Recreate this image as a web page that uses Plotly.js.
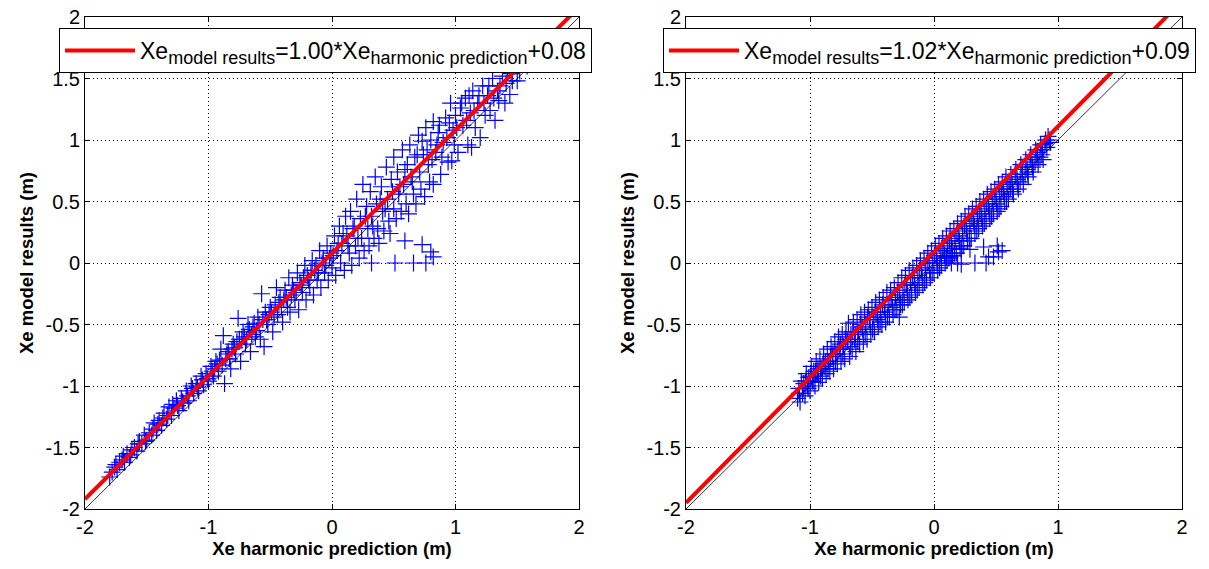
<!DOCTYPE html>
<html>
<head>
<meta charset="utf-8">
<script src="https://cdn.plot.ly/plotly-3.0.1.min.js"></script>
<style>html,body{margin:0;padding:0;background:#fff;}#chart{width:1209px;height:569px;}</style>
</head>
<body>
<div id="chart"></div>
<script>
// ---- Left panel: harmonic prediction vs model results (set 1) ----
const leftX = [
-1.80,-1.78,-1.76,-1.74,-1.72,-1.70,-1.68,-1.66,-1.64,-1.62,-1.60,-1.58,-1.56,-1.54,-1.52,-1.50,
-1.48,-1.46,-1.44,-1.42,-1.40,-1.38,-1.36,-1.34,-1.32,-1.30,-1.28,-1.26,-1.24,-1.22,-1.20,-1.18,-1.16,-1.14,-1.12,-1.10,-1.08,-1.06,-1.04,-1.02,-1.00,
-0.98,-0.96,-0.94,-0.92,-0.90,-0.88,-0.87,-0.86,-0.84,-0.82,-0.80,-0.78,-0.76,-0.75,-0.74,-0.72,-0.70,-0.68,-0.66,-0.64,-0.62,-0.60,-0.58,-0.57,-0.56,-0.55,-0.54,-0.52,-0.50,
-0.48,-0.46,-0.45,-0.44,-0.42,-0.40,-0.38,-0.36,-0.35,-0.34,-0.32,-0.30,-0.28,-0.27,-0.26,-0.24,-0.22,-0.21,-0.20,-0.18,-0.16,-0.15,-0.14,-0.12,-0.10,-0.09,-0.08,-0.06,-0.04,-0.03,-0.02,0.00,
0.02,0.03,0.04,0.06,0.07,0.08,0.10,0.11,0.12,0.14,0.15,0.16,0.18,0.19,0.20,0.22,0.23,0.24,0.25,0.26,0.28,0.29,0.30,0.31,0.32,0.34,0.35,0.36,0.37,0.38,0.40,0.41,0.42,0.44,0.45,0.46,0.47,0.48,0.50,0.50,
0.52,0.53,0.54,0.56,0.57,0.58,0.60,0.61,0.62,0.63,0.64,0.66,0.67,0.68,0.70,0.71,0.72,0.73,0.74,0.75,0.76,0.78,0.79,0.80,0.82,0.82,0.84,0.86,0.88,0.90,0.92,0.94,0.96,0.97,0.98,
1.00,1.02,1.04,1.06,1.08,1.10,1.12,1.13,1.14,1.16,1.18,1.20,1.22,1.24,1.26,1.28,1.30,1.32,1.34,1.35,1.38,1.40,1.42,1.44,1.46,1.48,1.50,1.52,1.55,1.58,
0.32,0.51,0.59,0.66,0.73,0.76,0.80,0.82,
-1.75,-1.69,-1.63,-1.57,-1.51,-1.45,-1.41,-1.37,-1.33,-1.29,-1.25,-1.21,-1.17,-1.13,-1.09,-1.05,-1.01,
-0.97,-0.95,-0.93,-0.91,-0.89,-0.85,-0.83,-0.81,-0.79,-0.77,-0.73,-0.71,-0.69,-0.67,-0.65,-0.63,-0.61,-0.59,-0.53,-0.51,-0.49,-0.47,-0.43,-0.41,-0.39,-0.37,-0.33,-0.31,-0.29,-0.25,-0.23,-0.19,-0.17,-0.13,-0.11,-0.07,-0.05,-0.01,0.01,
0.05,0.09,0.13,0.17,0.21,0.27,0.33,0.39,0.43,0.49,0.55,0.59,0.65,0.69,0.77,0.81,0.85,0.87,0.89,0.93,0.95,0.99,1.01,1.05,1.09,1.11,1.15,1.19,1.23,1.27,1.31,1.36,1.41,1.45
];
const leftY = [
-1.74,-1.70,-1.66,-1.68,-1.62,-1.60,-1.62,-1.55,-1.58,-1.52,-1.50,-1.53,-1.45,-1.47,-1.40,-1.44,
-1.38,-1.40,-1.30,-1.36,-1.28,-1.32,-1.22,-1.27,-1.17,-1.24,-1.18,-1.12,-1.20,-1.10,-1.14,-1.04,-1.12,-1.00,-1.06,-0.98,-1.04,-0.92,-0.99,-0.90,-0.96,
-0.84,-0.92,-0.80,-0.88,-0.70,-0.59,-0.98,-0.78,-0.72,-0.86,-0.66,-0.74,-0.45,-0.62,-0.80,-0.56,-0.66,-0.50,-0.72,-0.52,-0.60,-0.44,-0.62,-0.25,-0.46,-0.68,-0.40,-0.50,-0.36,
-0.56,-0.34,-0.20,-0.42,-0.28,-0.48,-0.22,-0.36,-0.12,-0.40,-0.18,-0.30,-0.08,-0.38,-0.16,-0.24,-0.02,-0.30,-0.10,-0.20,0.02,-0.26,-0.06,-0.14,0.10,-0.20,0.00,-0.08,0.14,-0.14,0.04,-0.04,
0.22,-0.10,0.10,0.30,0.00,0.16,-0.06,0.38,0.22,0.08,0.42,-0.02,0.30,0.14,0.52,0.04,0.36,0.20,0.64,0.10,0.46,0.28,0.14,0.58,0.38,0.20,0.70,0.48,0.28,0.16,0.62,0.42,0.26,0.78,0.52,0.34,0.24,0.68,0.44,0.86,
0.36,0.74,0.56,0.42,0.92,0.64,0.48,0.80,0.40,0.96,0.70,0.56,0.86,0.48,1.04,0.74,0.60,0.99,0.88,0.54,1.10,0.80,0.66,1.00,0.64,1.15,0.90,1.06,0.72,0.98,1.18,0.82,1.30,0.83,1.08,
1.20,0.90,1.26,1.12,1.34,0.96,1.22,0.94,1.40,1.10,1.30,1.02,1.44,1.20,1.36,1.24,1.50,1.16,1.40,1.32,1.52,1.30,1.56,1.37,1.48,1.60,1.48,1.56,1.62,1.60,
0.00,0.00,0.18,0.00,0.15,0.00,0.09,0.05,
-1.64,-1.57,-1.56,-1.47,-1.45,-1.35,-1.31,-1.26,-1.24,-1.15,-1.16,-1.13,-1.08,-1.02,-1.01,-0.95,-0.94,
-0.88,-0.86,-0.82,-0.79,-0.83,-0.74,-0.78,-0.70,-0.69,-0.64,-0.62,-0.60,-0.62,-0.54,-0.58,-0.49,-0.55,-0.50,-0.46,-0.42,-0.40,-0.44,-0.32,-0.36,-0.30,-0.28,-0.26,-0.22,-0.24,-0.18,-0.12,-0.14,-0.06,-0.02,-0.08,0.04,-0.02,0.08,0.06,
0.16,0.24,0.14,0.28,0.20,0.38,0.30,0.52,0.44,0.58,0.62,0.76,0.66,0.88,0.92,0.84,0.96,1.12,0.86,1.02,1.14,0.96,1.10,1.30,1.16,1.36,1.24,1.36,1.30,1.44,1.34,1.44,1.46,1.54
];

// ---- Right panel: harmonic prediction vs model results (set 2) ----
const rightX = [
-1.10,-1.09,-1.08,-1.07,-1.06,-1.05,-1.04,-1.03,-1.02,-1.01,-1.00,-0.99,-0.98,-0.97,-0.96,-0.95,-0.94,-0.93,-0.92,-0.91,
-0.90,-0.89,-0.88,-0.87,-0.86,-0.85,-0.84,-0.83,-0.82,-0.81,-0.80,-0.79,-0.78,-0.77,-0.76,-0.75,-0.74,-0.73,-0.72,-0.71,
-0.70,-0.69,-0.68,-0.67,-0.66,-0.65,-0.64,-0.63,-0.62,-0.61,-0.60,-0.59,-0.58,-0.57,-0.56,-0.55,-0.54,-0.53,-0.52,-0.51,
-0.50,-0.49,-0.48,-0.47,-0.46,-0.45,-0.44,-0.43,-0.42,-0.41,-0.40,-0.39,-0.38,-0.37,-0.36,-0.35,-0.34,-0.33,-0.32,-0.31,
-0.30,-0.29,-0.28,-0.28,-0.27,-0.26,-0.25,-0.24,-0.23,-0.22,-0.21,-0.20,-0.19,-0.18,-0.17,-0.16,-0.15,-0.14,-0.13,-0.12,
-0.11,-0.10,-0.09,-0.08,-0.07,-0.06,-0.05,-0.04,-0.03,-0.02,-0.01,0.00,0.01,0.02,0.03,0.04,0.05,0.06,0.07,0.08,
0.09,0.10,0.11,0.12,0.13,0.14,0.15,0.16,0.17,0.18,0.19,0.20,0.21,0.22,0.23,0.24,0.25,0.26,0.27,0.28,
0.29,0.30,0.31,0.32,0.33,0.34,0.35,0.36,0.37,0.38,0.39,0.40,0.41,0.42,0.43,0.44,0.45,0.46,0.47,0.48,
0.49,0.50,0.51,0.52,0.53,0.54,0.55,0.56,0.57,0.58,0.59,0.60,0.62,0.63,0.64,0.66,0.67,0.68,0.70,0.71,
0.72,0.74,0.75,0.76,0.78,0.79,0.80,0.82,0.83,0.84,0.86,0.87,0.88,0.90,0.91,0.92,
0.10,0.13,0.14,0.19,0.22,0.22,0.29,0.33,0.40,0.42,0.44,0.48,0.51,0.52,0.55,
-1.085,-1.055,-1.035,-1.015,-0.995,-0.975,-0.955,-0.935,-0.915,-0.895,
-0.875,-0.855,-0.835,-0.815,-0.795,-0.775,-0.755,-0.735,-0.715,-0.695,
-0.675,-0.655,-0.635,-0.615,-0.595,-0.575,-0.555,-0.535,-0.515,-0.495,
-0.475,-0.455,-0.435,-0.415,-0.395,-0.375,-0.355,-0.335,-0.315,-0.295,
-0.275,-0.255,-0.235,-0.215,-0.195,-0.175,-0.155,-0.135,-0.115,-0.095,
-0.075,-0.055,-0.035,-0.015,0.005,0.025,0.045,0.065,0.085,0.105,
0.125,0.145,0.165,0.185,0.205,0.225,0.245,0.265,0.285,0.305,
0.325,0.345,0.365,0.385,0.405,0.425,0.445,0.465,0.485,0.505,
0.525,0.545,0.565,0.585,0.605,0.615,0.635,0.655,0.675,0.695,
0.715,0.735,0.755,0.775,0.795,0.815,0.835,0.855,0.875,0.895,
0.93,0.94
];
const rightY = [
-1.10,-1.02,-1.13,-0.96,-1.06,-0.98,-1.08,-0.90,-1.00,-0.93,-1.04,-0.84,-0.96,-0.88,-1.00,-0.80,-0.90,-0.97,-0.78,-0.86,
-0.94,-0.74,-0.84,-0.90,-0.70,-0.80,-0.88,-0.68,-0.76,-0.86,-0.64,-0.74,-0.82,-0.60,-0.70,-0.80,-0.58,-0.68,-0.78,-0.56,
-0.64,-0.49,-0.76,-0.58,-0.70,-0.48,-0.62,-0.72,-0.46,-0.56,-0.66,-0.42,-0.52,-0.64,-0.40,-0.50,-0.62,-0.38,-0.46,-0.58,
-0.36,-0.44,-0.56,-0.32,-0.42,-0.52,-0.30,-0.40,-0.50,-0.28,-0.36,-0.48,-0.24,-0.34,-0.44,-0.22,-0.30,-0.42,-0.20,-0.28,
-0.38,-0.16,-0.26,-0.44,-0.34,-0.12,-0.22,-0.32,-0.10,-0.18,-0.30,-0.06,-0.16,-0.26,-0.04,-0.12,-0.24,-0.02,-0.10,-0.20,
0.02,-0.06,-0.18,0.04,-0.04,-0.14,0.08,0.00,-0.12,0.10,0.02,-0.08,0.14,0.04,-0.06,0.16,0.08,-0.02,0.20,0.10,
0.00,0.22,0.14,0.04,0.26,0.16,0.06,0.28,0.20,0.08,0.32,0.22,0.12,0.34,0.26,0.14,0.38,0.28,0.18,0.40,
0.32,0.20,0.44,0.34,0.24,0.46,0.38,0.28,0.50,0.40,0.30,0.52,0.44,0.34,0.56,0.46,0.36,0.58,0.50,0.40,
0.60,0.52,0.42,0.64,0.56,0.46,0.66,0.58,0.50,0.70,0.62,0.52,0.72,0.64,0.56,0.76,0.68,0.60,0.80,0.72,
0.64,0.84,0.76,0.70,0.88,0.80,0.74,0.92,0.86,0.80,0.96,0.88,0.84,1.00,0.94,1.03,
0.05,0.05,0.00,0.00,0.11,-0.01,0.11,0.00,0.13,0.00,0.05,0.05,0.14,0.09,0.10,
-1.06,-1.02,-0.96,-1.02,-0.92,-0.96,-0.88,-0.86,-0.92,-0.82,
-0.80,-0.86,-0.76,-0.74,-0.80,-0.70,-0.66,-0.74,-0.62,-0.64,
-0.68,-0.56,-0.58,-0.64,-0.50,-0.54,-0.58,-0.44,-0.50,-0.54,
-0.40,-0.46,-0.48,-0.34,-0.40,-0.44,-0.30,-0.36,-0.38,-0.24,
-0.30,-0.34,-0.18,-0.24,-0.28,-0.12,-0.18,-0.22,-0.06,-0.12,
-0.16,0.00,-0.06,-0.08,0.06,0.00,-0.04,0.12,0.06,0.02,
0.18,0.12,0.08,0.24,0.18,0.14,0.30,0.24,0.20,0.36,
0.30,0.26,0.42,0.36,0.32,0.48,0.42,0.38,0.54,0.48,
0.44,0.60,0.54,0.50,0.66,0.60,0.58,0.70,0.64,0.66,
0.78,0.72,0.74,0.84,0.78,0.82,0.90,0.86,0.92,0.97,
1.00,0.98
];

// ---- Fits (slope, intercept) and reference lines ----
const fitSlope = [1.00, 1.02];
const fitIntercept = [0.08, 0.09];
const SUB = s => '<sub><span style="font-size:18px">' + s + '</span></sub>';
const fitLabels = [
  'Xe' + SUB('model results') + '=1.00*Xe' + SUB('harmonic prediction') + '+0.08',
  'Xe' + SUB('model results') + '=1.02*Xe' + SUB('harmonic prediction') + '+0.09'
];
const lineX = [-2, 2];

const xTickVals = [-2, -1, 0, 1, 2];
const xTickText = ['-2', '-1', '0', '1', '2'];
const yTickVals = [-2, -1.5, -1, -0.5, 0, 0.5, 1, 1.5, 2];
const yTickText = ['-2', '-1.5', '-1', '-0.5', '0', '0.5', '1', '1.5', '2'];

const xTitle = 'Xe harmonic prediction (m)';
const yTitle = 'Xe model results (m)';

const FONT = 'Liberation Sans, Arial, Helvetica, sans-serif';

function panelTraces(xs, ys, k, xa, ya, leg) {
  return [
    {type: 'scatter', mode: 'markers', x: xs, y: ys, xaxis: xa, yaxis: ya, showlegend: false,
     marker: {symbol: 'cross-thin-open', size: 12, color: '#0000ff', line: {color: '#0000ff', width: 1.2}}},
    {type: 'scatter', mode: 'lines', x: lineX, y: lineX.slice(), xaxis: xa, yaxis: ya, showlegend: false,
     line: {color: '#000000', width: 0.8}},
    {type: 'scatter', mode: 'lines', x: lineX, y: lineX.map(v => fitSlope[k] * v + fitIntercept[k]),
     xaxis: xa, yaxis: ya, name: fitLabels[k], legend: leg, showlegend: true,
     line: {color: '#ff0000', width: 4}}
  ];
}

const data = [].concat(
  panelTraces(leftX, leftY, 0, 'x', 'y', 'legend'),
  panelTraces(rightX, rightY, 1, 'x2', 'y2', 'legend2')
);

function axisBase(ticksV, ticksT) {
  return {range: [-2, 2], tickvals: ticksV, ticktext: ticksT,
    showline: true, linecolor: '#000', linewidth: 1, mirror: 'ticks', ticks: 'inside', ticklen: 5,
    tickcolor: '#000', showgrid: true, gridcolor: '#000', gridwidth: 1, griddash: '1px,3px',
    zeroline: false, automargin: false, tickfont: {family: FONT, size: 20, color: '#000'}};
}
function xAxis(dom, anchor) {
  return Object.assign(axisBase(xTickVals, xTickText), {domain: dom, anchor: anchor,
    title: {text: xTitle, font: {family: FONT, size: 18.5, color: '#000', weight: 'bold'}, standoff: 5}});
}
function yAxis(dom, anchor) {
  return Object.assign(axisBase(yTickVals, yTickText), {domain: dom, anchor: anchor,
    title: {text: yTitle, font: {family: FONT, size: 18.5, color: '#000', weight: 'bold'}, standoff: 7}});
}

const yDom = [60 / 569, 552 / 569];
const layout = {
  width: 1209, height: 569,
  margin: {l: 0, r: 0, t: 0, b: 0},
  paper_bgcolor: '#fff', plot_bgcolor: '#fff',
  font: {family: FONT, color: '#000'},
  xaxis: xAxis([85 / 1209, 579 / 1209], 'y'),
  yaxis: yAxis(yDom, 'x'),
  xaxis2: xAxis([686 / 1209, 1182 / 1209], 'y2'),
  yaxis2: yAxis(yDom, 'x2'),
  legend: {x: 59 / 1209, y: 1 - 28 / 569, xanchor: 'left', yanchor: 'top', bgcolor: '#fff',
    bordercolor: '#000', borderwidth: 1, font: {family: FONT, size: 23, color: '#000'}, itemwidth: 70},
  legend2: {x: 663 / 1209, y: 1 - 28 / 569, xanchor: 'left', yanchor: 'top', bgcolor: '#fff',
    bordercolor: '#000', borderwidth: 1, font: {family: FONT, size: 23, color: '#000'}, itemwidth: 70},
  showlegend: true
};

Plotly.newPlot('chart', data, layout, {displayModeBar: false, staticPlot: true});
</script>
</body>
</html>
